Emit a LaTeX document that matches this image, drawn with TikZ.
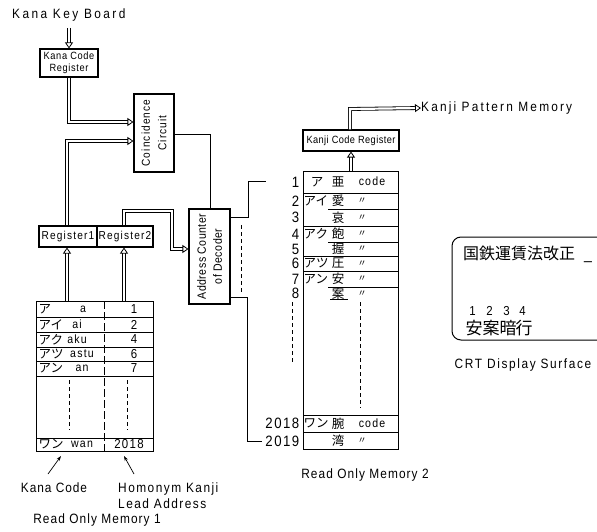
\documentclass[tikz,border=0pt]{standalone}
\usepackage{fontspec}
\setmainfont{Liberation Sans}[FakeStretch=0.88,LetterSpace=10]
\newfontfamily\jp{Noto Sans CJK JP}
\usetikzlibrary{arrows.meta}
\newcommand{\ls}[1]{\addfontfeatures{LetterSpace=#1}}
\tikzset{
  lbl/.style={inner sep=0pt, font=\fontsize{13.5}{16}\selectfont},
  boxsty/.style={draw, line width=1.1pt, inner sep=0pt},
  cell/.style={inner sep=0pt, font=\fontsize{12}{13}\selectfont},
  jpcell/.style={inner sep=0pt, font=\jp\fontsize{12.5}{13}\selectfont},
  kanji/.style={inner sep=0pt, font=\jp\fontsize{12.5}{13}\selectfont},
  ditto/.style={inner sep=0pt, font=\jp\fontsize{9}{10}\selectfont},
  bignum/.style={inner sep=0pt, font=\fontsize{15}{16}\selectfont},
  dbl/.style={double, double distance=2.2pt, line width=0.8pt,
    -{Triangle[open, length=6pt, width=8pt, line width=0.8pt]}},
  wire/.style={line width=0.9pt},
  tbl/.style={line width=0.9pt},
  pointer/.style={line width=0.7pt, -{Stealth[length=5pt,width=3.5pt]}},
}
\begin{document}
\begin{tikzpicture}[x=1pt,y=-1pt]
\useasboundingbox (0,0) rectangle (597,532);
\clip (0,0) rectangle (597,532);

% Kana key board
\node[lbl, anchor=west] (kkb) at (12,15) {\ls{18}Kana Key Board};
\coordinate (kkbout) at (69,28);
\node[boxsty, minimum width=58pt, minimum height=28pt] (kcr) at (69,63) {};
\node[inner sep=0pt, align=center, font=\fontsize{10.5}{11.5}\selectfont] (kcrt) at (kcr.center) {\ls{6}Kana Code\\\ls{6}Register};
\draw[dbl] (kkbout) -- (kcr.north);

% Coincidence circuit
\node[boxsty, minimum width=40pt, minimum height=78pt] (cc) at (154,133) {};
\node[inner sep=0pt, rotate=90, align=center, font=\fontsize{11.5}{16.5}\selectfont] (cct) at (cc.center) {Coincidence\\Circuit};

% Registers
\node[boxsty, minimum width=58pt, minimum height=21pt] (r1) at (68,236.5) {};
\node[boxsty, minimum width=56pt, minimum height=21pt] (r2) at (125,236.5) {};
\node[cell, font=\fontsize{11.5}{13}\selectfont] (r1t) at (r1.center) {Register1};
\node[cell, font=\fontsize{11.5}{13}\selectfont] (r2t) at (r2.center) {Register2};

% Address counter
\node[boxsty, minimum width=41pt, minimum height=95pt] (ac) at (209.5,256.5) {};
\node[inner sep=0pt, rotate=90, align=center, font=\fontsize{12}{16}\selectfont] (act) at (ac.center) {\ls{4}Address Counter\\\ls{4}of Decoder};

% double arrows into coincidence circuit
\coordinate (ka) at (69,122);
\draw[dbl] (kcr.south -| ka) -- (ka) -- (ka -| cc.west);
\coordinate (ra) at (67,141);
\draw[dbl] (r1.north -| ra) -- (ra) -- (ra -| cc.west);

% register2 to address counter
\coordinate (rb1) at (124,211);
\coordinate (rb2) at (172,211);
\coordinate (rb3) at (172,249);
\draw[dbl] (r2.north -| rb1) -- (rb1) -- (rb2) -- (rb3) -- (rb3 -| ac.west);

% coincidence to address counter
\coordinate (e1) at (210.5,134.5);
\draw[wire] (cc.east |- e1) -- (e1) -- (e1 |- ac.north);

% address counter outputs
\coordinate (f1) at (248.5,217.5);
\coordinate (f2) at (248.5,181.5);
\coordinate (f3) at (266,181.5);
\draw[wire] (ac.east |- f1) -- (f1) -- (f2) -- (f3);
\coordinate (g1) at (247.5,297.5);
\coordinate (g2) at (247.5,441.5);
\coordinate (g3) at (262,441.5);
\draw[wire] (ac.east |- g1) -- (g1) -- (g2) -- (g3);
\draw[wire, dash pattern=on 4pt off 3pt] (241.5,225) -- (241.5,292);

% ROM 1
\node[draw, line width=1pt, minimum width=117pt, minimum height=150pt, inner sep=0pt] (rom1) at (94.5,376) {};
\foreach \y in {317,332,347,361,376,438} \draw[tbl] (36,\y) -- (153,\y);
\draw[tbl, dash pattern=on 8pt off 3pt] (104.5,301) -- (104.5,451);
\draw[wire, dash pattern=on 4pt off 3pt] (69.5,380) -- (69.5,430);
\draw[wire, dash pattern=on 4pt off 3pt] (127.5,380) -- (127.5,430);
\foreach \y/\k/\r/\rx/\n in {309/ア/a/83/1, 324.5/アイ/ai/77/2, 339.5/アク/aku/77/4, 354/アツ/astu/82/6, 368.5/アン/an/82/7}{
  \node[jpcell, anchor=west] (ka\n) at (38.5,\y) {\k};
  \node[cell] (ro\n) at (\rx,\y) {\r};
  \node[cell, font=\fontsize{13}{14}\selectfont] (nu\n) at (134,\y) {\n};
}
\node[jpcell, anchor=west] (kawan) at (38.5,444.5) {ワン};
\node[cell] (rowan) at (82,444.5) {wan};
\node[cell, font=\fontsize{13}{14}\selectfont] (nuwan) at (129,444.5) {2018};

\draw[dbl] (rom1.north -| ra) -- (r1.south -| ra);
\draw[dbl] (rom1.north -| rb1) -- (r2.south -| rb1);

% labels under ROM1
\node[lbl] (kclbl) at (54,488) {\ls{7}Kana Code};
\node[lbl, anchor=west, align=left] (hlbl) at (118,495.5) {\ls{11}Homonym Kanji\\\ls{11}Lead Address};
\node[lbl] (rom1lbl) at (97,520) {\ls{8}Read Only Memory 1};
\coordinate (p1) at (48,474);
\coordinate (p2) at (61,456);
\draw[pointer] (p1) -- (p2);
\coordinate (q1) at (134,474);
\coordinate (q2) at (124,456);
\draw[pointer] (q1) -- (q2);

% Kanji code register
\node[boxsty, minimum width=96pt, minimum height=21pt] (kcr2) at (351,140.5) {};
\node[inner sep=0pt, font=\fontsize{10.5}{13}\selectfont] (kcr2t) at (kcr2.center) {\ls{4}Kanji Code Register};
\coordinate (h1) at (350,109);
\node[lbl, anchor=west] (kpm) at (421,108) {\ls{16}Kanji Pattern Memory};
\draw[dbl] (kcr2.north -| h1) -- (h1) -- (kpm.west);

% ROM 2
\node[draw, line width=1pt, minimum width=95pt, minimum height=278pt, inner sep=0pt] (rom2) at (350.5,310) {};
\coordinate (rx) at (351,0);
\draw[dbl] (rom2.north -| rx) -- (kcr2.south -| rx);
\foreach \y in {193,226,256,271,415,432} \draw[tbl] (303,\y) -- (398,\y);
\foreach \y in {209,242,287} \draw[tbl] (328,\y) -- (398,\y);
\draw[tbl] (330,299) -- (348,299);
\draw[wire, dash pattern=on 4pt off 3pt] (292.5,302) -- (292.5,362);
\draw[wire, dash pattern=on 4pt off 3pt] (360.5,302) -- (360.5,408);
\foreach \i/\y/\k/\c in {2/201/アイ/愛, 3/217.5//哀, 4/234/アク/飽, 5/249//握, 6/263.5/アツ/圧, 7/279/アン/安, 8/293.5//案}{
  \node[bignum, anchor=east] (n\i) at (299.5,\y) {\i};
  \node[jpcell, anchor=west] (k\i) at (303.5,\y) {\k};
  \node[kanji] (kj\i) at (338,\y) {\c};
}
\node[bignum, anchor=east] (n1) at (299.5,182) {1};
\node[jpcell] (k1) at (317,182) {ア};
\node[kanji] (kj1) at (338,182) {亜};
\node[cell] (code1) at (372,181) {code};
\foreach \i/\y in {2/201, 3/217.5, 4/234, 5/249, 6/263.5, 7/279, 8/293.5}{
  \node[ditto] (dt\i) at (362,\y) {〃};
}
\node[bignum, anchor=east] (n2018) at (299.5,423.5) {2018};
\node[bignum, anchor=east] (n2019) at (299.5,441) {2019};
\node[jpcell, anchor=west] (k2018) at (303.5,423.5) {ワン};
\node[kanji] (kj2018) at (338,423.5) {腕};
\node[kanji] (kj2019) at (338,441) {湾};
\node[cell] (code2018) at (372,423) {code};
\node[ditto] (dt2019) at (362,441) {〃};
\node[lbl] (rom2lbl) at (365,475) {\ls{8}Read Only Memory 2};

% CRT
\draw[line width=1pt, rounded corners=9pt] (452,237) rectangle (640,340);
\node[inner sep=0pt, anchor=west, font=\jp\fontsize{16}{17}\selectfont] (crt1) at (463,253) {国鉄運賃法改正};
\node[inner sep=0pt, anchor=base west, font=\fontsize{16}{17}\selectfont] (crtcur) at (584,259) {\_};
\foreach \n/\x/\c in {1/474/安,2/491/案,3/508/暗,4/524/行}{
  \node[inner sep=0pt, font=\fontsize{13}{14}\selectfont] (cn\n) at (\x-1.5,311) {\n};
  \node[inner sep=0pt, font=\jp\fontsize{17}{18}\selectfont] (ch\n) at (\x,328) {\c};
}
\node[lbl] (crtlbl) at (523,365) {\ls{12}CRT Display Surface};
\end{tikzpicture}
\end{document}
